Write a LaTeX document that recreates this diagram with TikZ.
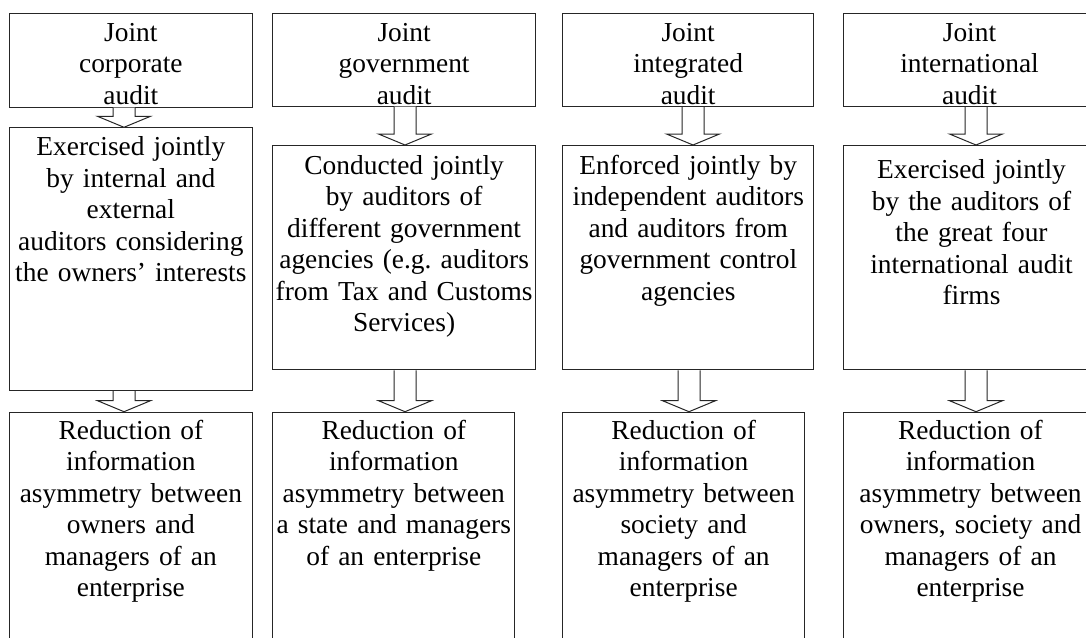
\documentclass[tikz,border=0pt]{standalone}
\usepackage{fontspec}
\setmainfont{Liberation Serif}
\usetikzlibrary{calc}
\frenchspacing
\newcommand\hollowdown[3]{%
  \draw[harrow] let \p1=(#1.south), \p2=(#2.north) in
    (#3-11,\y1) -- (#3-11,\y2+11) -- (#3-26.5,\y2+11) -- (#3,\y2)
    -- (#3+26.5,\y2+11) -- (#3+11,\y2+11) -- (#3+11,\y1);}
\begin{document}
\begin{tikzpicture}[x=1pt,y=1pt,
  box/.style={draw=black!85, line width=1pt, rectangle, inner sep=0pt,
    anchor=north west, align=center,
    font=\fontsize{27.4pt}{31.5pt}\selectfont\frenchspacing},
  harrow/.style={draw=black!85, fill=white, line width=1pt, line join=miter}]
\useasboundingbox (0,0) rectangle (1086,-637);
\clip (0,0) rectangle (1086,-637);
% column 1
\node[box, minimum width=242.7pt, text width=242.7pt, text height=27.8pt, text depth=66.2pt] (a1) at (9,-12.7) {Joint\\corporate\\audit};
\node[box, minimum width=242.7pt, text width=242.7pt, text height=28pt, text depth=234.7pt] (a2) at (9,-127.3) {Exercised jointly\\by internal and\\external\\auditors considering\\the owners’ interests};
\node[box, minimum width=242.7pt, text width=242.7pt, text height=27pt, text depth=221.3pt] (a3) at (9,-411.7) {Reduction of\\information\\asymmetry between\\owners and\\managers of an\\enterprise};
% column 2
\node[box, minimum width=262.7pt, text width=262.7pt, text height=27.8pt, text depth=65.2pt] (b1) at (272.3,-12.7) {Joint\\government\\audit};
\node[box, minimum width=262.7pt, text width=262.7pt, text height=28.5pt, text depth=195.8pt] (b2) at (272.3,-145) {Conducted jointly\\by auditors of\\different government\\agencies (e.g. auditors\\from Tax and Customs\\Services)};
\node[box, minimum width=242pt, text width=242pt, text height=27pt, text depth=221.3pt] (b3) at (272.3,-411.7) {Reduction of\\information\\asymmetry between\\a state and managers\\of an enterprise};
% column 3
\node[box, minimum width=250.7pt, text width=250.7pt, text height=27.8pt, text depth=65.5pt] (c1) at (562.3,-12.7) {Joint\\integrated\\audit};
\node[box, minimum width=251pt, text width=251pt, text height=28.5pt, text depth=195.8pt] (c2) at (562.3,-145) {Enforced jointly by\\independent auditors\\and auditors from\\government control\\agencies};
\node[box, minimum width=241.7pt, text width=241.7pt, text height=27pt, text depth=221.3pt] (c3) at (562.3,-411.7) {Reduction of\\information\\asymmetry between\\society and\\managers of an\\enterprise};
% column 4
\node[box, minimum width=252.6pt, text width=252.6pt, text height=27.8pt, text depth=65.5pt] (d1) at (842.7,-12.7) {Joint\\international\\audit};
\node[box, minimum width=256.6pt, text width=256.6pt, text height=33pt, text depth=191.3pt] (d2) at (842.7,-145) {Exercised jointly\\by the auditors of\\the great four\\international audit\\firms};
\node[box, minimum width=254.6pt, text width=254.6pt, text height=27pt, text depth=221.3pt] (d3) at (842.7,-411.7) {Reduction of\\information\\asymmetry between\\owners, society and\\managers of an\\enterprise};
% hollow arrows
\hollowdown{a1}{a2}{124}
\hollowdown{a2}{a3}{124}
\hollowdown{b1}{b2}{405}
\hollowdown{b2}{b3}{405}
\hollowdown{c1}{c2}{693}
\hollowdown{c2}{c3}{689}
\hollowdown{d1}{d2}{976}
\hollowdown{d2}{d3}{976}
\end{tikzpicture}
\end{document}
